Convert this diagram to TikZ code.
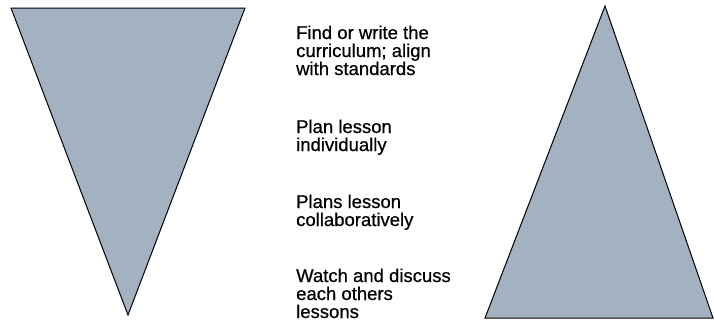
\documentclass[tikz,border=0pt]{standalone}
\usepackage{fontspec}
\setmainfont{Liberation Sans}
\newfontfamily\lblfont[FakeBold=0.6]{Liberation Sans}
\definecolor{trifill}{RGB}{163,178,192}
\begin{document}
\begin{tikzpicture}[x=1pt,y=-1pt,
  tri/.style={fill=trifill,draw=black,line width=1pt,line join=miter},
  lbl/.style={anchor=base west,inner sep=0pt,align=left,
    font=\lblfont\fontsize{18.5}{18}\selectfont}]
\useasboundingbox (0,0) rectangle (714,322);
\clip (0,0) rectangle (714,322);
\draw[tri] (11,8) -- (245,8) -- (128,315) -- cycle;
\draw[tri] (605,6) -- (713,318) -- (485,318) -- cycle;
\node[lbl] (t1) at (296,75) {Find or write the\\curriculum; align\\with standards};
\node[lbl] (t2) at (296,151) {Plan lesson\\individually};
\node[lbl] (t3) at (296,226) {Plans lesson\\collaboratively};
\node[lbl] (t4) at (296,318) {Watch and discuss\\each others\\lessons};
\end{tikzpicture}
\end{document}
